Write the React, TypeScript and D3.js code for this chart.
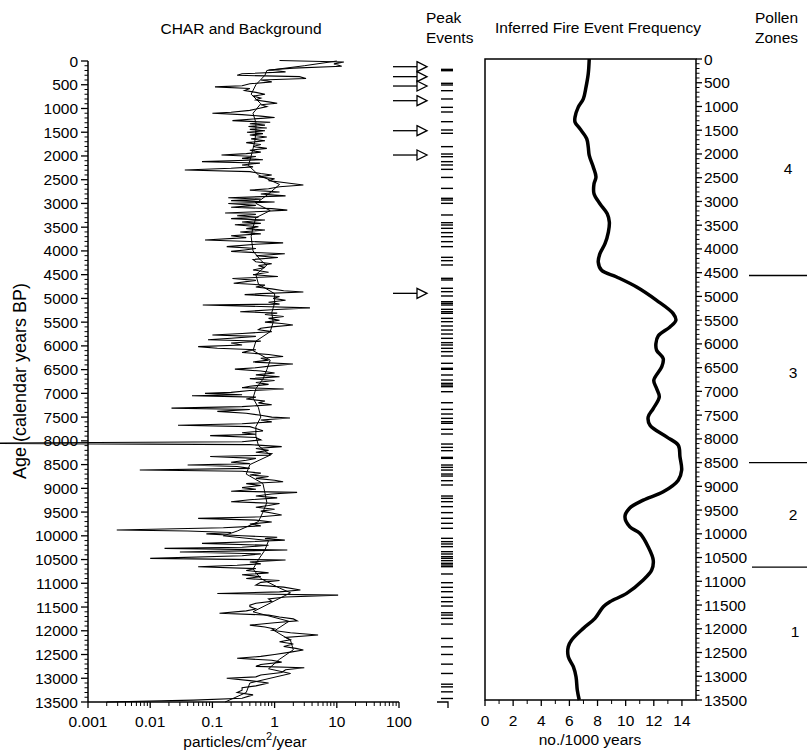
import React from "react";
import * as d3 from "d3";

// ---------------- DATA ----------------
// CHAR raw series: [age (cal yr BP), particles/cm2/yr]
const charRaw: [number, number][] = [
  [-10, 1.2], [20, 13], [60, 9], [110, 12], [150, 2], [190, 0.8], [230, 1.5], [270, 0.3], [300, 0.25], [330, 2.5],
  [370, 3.2], [400, 0.6], [440, 0.9], [480, 0.4], [520, 0.3], [545, 0.11], [580, 0.4], [620, 0.33], [660, 0.5], [700, 0.7],
  [740, 0.45], [780, 0.6], [820, 0.5], [860, 0.8], [890, 1.1], [920, 0.6], [960, 0.75], [1000, 0.55], [1040, 0.4], [1080, 0.2],
  [1100, 0.1], [1130, 0.3], [1160, 0.6], [1190, 1.0], [1220, 0.45], [1255, 0.21], [1290, 0.85], [1320, 0.4], [1350, 0.7], [1380, 0.38],
  [1410, 0.75], [1440, 0.4], [1470, 0.7], [1500, 0.36], [1530, 0.65], [1560, 0.4], [1600, 0.75], [1640, 0.42], [1680, 0.7], [1720, 0.35],
  [1760, 0.6], [1800, 0.45], [1840, 0.75], [1880, 0.4], [1920, 0.6], [1950, 0.35], [1980, 0.14], [2010, 0.5], [2050, 0.3], [2080, 0.65],
  [2120, 0.068], [2150, 0.58], [2190, 0.3], [2230, 0.45], [2260, 0.2], [2295, 0.036], [2330, 0.4], [2370, 0.6], [2400, 0.9], [2440, 0.55],
  [2480, 1.0], [2520, 0.8], [2560, 1.4], [2610, 2.9], [2650, 1.2], [2690, 0.8], [2720, 0.4], [2760, 1.2], [2800, 0.6], [2840, 1.5],
  [2880, 0.18], [2910, 0.6], [2940, 0.2], [2970, 1.0], [3000, 0.18], [3040, 0.5], [3080, 0.2], [3110, 0.9], [3140, 1.6], [3170, 0.6],
  [3200, 0.16], [3230, 0.5], [3260, 0.25], [3290, 0.55], [3320, 0.2], [3350, 0.7], [3390, 0.3], [3420, 0.6], [3450, 0.23], [3490, 0.55],
  [3530, 0.35], [3560, 0.7], [3600, 0.28], [3640, 0.6], [3680, 0.2], [3720, 0.35], [3770, 0.076], [3800, 0.4], [3830, 1.37], [3860, 0.5],
  [3910, 0.17], [3950, 0.5], [3980, 0.33], [4010, 0.2], [4040, 0.6], [4060, 1.46], [4100, 0.5], [4140, 1.13], [4180, 0.45], [4230, 0.5],
  [4270, 0.9], [4310, 0.55], [4350, 0.7], [4400, 0.45], [4450, 0.8], [4500, 0.45], [4540, 1.13], [4580, 0.21], [4620, 0.5], [4680, 0.22],
  [4720, 0.7], [4760, 0.5], [4800, 0.9], [4840, 1.4], [4865, 2.9], [4900, 0.6], [4920, 0.33], [4960, 1.2], [5000, 0.95], [5040, 1.5],
  [5080, 0.8], [5120, 1.2], [5140, 0.07], [5170, 0.6], [5200, 3.7], [5240, 0.9], [5280, 0.28], [5310, 1.1], [5340, 0.7], [5380, 1.4],
  [5420, 0.8], [5460, 1.2], [5500, 0.7], [5530, 1.3], [5560, 1.97], [5600, 0.9], [5630, 0.6], [5660, 0.55], [5700, 0.9], [5740, 0.3],
  [5770, 0.1], [5800, 0.5], [5840, 0.2], [5870, 0.085], [5900, 0.6], [5940, 0.2], [5980, 0.3], [6015, 0.059], [6050, 0.12], [6080, 0.5],
  [6100, 0.4], [6140, 0.3], [6180, 0.8], [6225, 1.37], [6260, 0.6], [6300, 0.8], [6340, 0.45], [6380, 1.97], [6420, 0.9], [6460, 0.5],
  [6490, 0.23], [6530, 0.6], [6570, 1.0], [6610, 0.5], [6650, 1.2], [6690, 0.4], [6730, 1.0], [6770, 0.5], [6810, 0.8], [6850, 0.4],
  [6880, 0.3], [6908, 1.4], [6940, 0.4], [6980, 0.2], [7000, 0.076], [7030, 0.3], [7050, 0.047], [7080, 0.5], [7120, 0.35], [7160, 0.7],
  [7200, 0.55], [7240, 0.9], [7280, 0.3], [7310, 0.022], [7340, 0.4], [7380, 0.12], [7420, 0.35], [7460, 0.6], [7500, 0.9], [7520, 1.77],
  [7560, 0.6], [7600, 0.9], [7640, 0.3], [7670, 0.028], [7700, 0.4], [7740, 0.5], [7790, 0.65], [7830, 0.3], [7860, 0.5], [7890, 0.092],
  [7930, 0.5], [7980, 0.6], [8020, 0.3], [8050, 0.00001], [8080, 0.4], [8122, 1.3], [8160, 0.5], [8200, 0.8], [8240, 0.5], [8270, 0.9],
  [8300, 0.84], [8330, 0.092], [8370, 0.5], [8410, 0.35], [8450, 0.2], [8480, 0.4], [8510, 0.04], [8540, 0.25], [8580, 0.4], [8615, 0.0068],
  [8640, 0.3], [8680, 0.6], [8720, 0.4], [8750, 0.8], [8790, 0.5], [8830, 1.0], [8860, 1.37], [8900, 0.35], [8940, 0.6], [8985, 0.3],
  [9020, 0.5], [9060, 0.2], [9086, 2.3], [9120, 0.9], [9160, 0.5], [9200, 1.1], [9240, 0.4], [9282, 0.2], [9320, 1.2], [9360, 0.8],
  [9400, 0.5], [9440, 1.0], [9480, 0.6], [9520, 0.9], [9562, 1.3], [9600, 0.6], [9632, 0.059], [9670, 0.5], [9710, 0.9], [9750, 0.4],
  [9790, 0.6], [9830, 0.15], [9878, 0.0029], [9900, 0.04], [9930, 0.2], [9960, 0.08], [10000, 0.3], [10030, 1.1], [10060, 0.7], [10090, 1.46],
  [10125, 0.4], [10160, 0.068], [10200, 0.8], [10240, 0.3], [10265, 0.017], [10300, 1.6], [10340, 0.03], [10380, 0.6], [10420, 0.3], [10475, 0.01],
  [10510, 1.5], [10550, 0.4], [10590, 0.6], [10620, 0.25], [10650, 0.059], [10690, 0.5], [10730, 0.35], [10780, 0.8], [10820, 0.3], [10860, 0.6],
  [10900, 0.35], [10940, 1.2], [10980, 0.6], [11036, 0.5], [11080, 1.4], [11140, 2.6], [11180, 1.2], [11215, 0.12], [11250, 10.5], [11290, 1.5],
  [11330, 0.8], [11380, 0.9], [11420, 0.5], [11460, 0.4], [11490, 0.4], [11540, 0.5], [11580, 0.35], [11630, 0.13], [11670, 0.8], [11710, 1.2],
  [11750, 2.0], [11790, 2.3], [11830, 1.0], [11880, 0.4], [11920, 0.7], [11960, 1.0], [11990, 0.9], [12040, 1.8], [12090, 5.0], [12140, 1.5],
  [12190, 1.8], [12230, 1.2], [12280, 2.0], [12330, 1.4], [12370, 2.2], [12405, 2.9], [12450, 1.8], [12500, 1.0], [12540, 0.6], [12580, 0.25],
  [12620, 0.9], [12660, 1.3], [12710, 0.6], [12750, 0.5], [12780, 3.0], [12820, 1.5], [12880, 1.3], [12930, 0.6], [12970, 0.5], [13000, 0.17],
  [13050, 0.4], [13100, 0.8], [13160, 0.5], [13200, 0.3], [13250, 0.3], [13300, 0.25], [13350, 0.45], [13420, 0.3], [13460, 0.05], [13500, 0.002],
];

// CHAR background (smoothed)
const charBackground: [number, number][] = [
  [0, 10], [100, 3], [200, 0.75], [300, 0.7], [500, 0.5], [700, 0.42], [900, 0.6], [1100, 0.45], [1300, 0.5], [1500, 0.5],
  [1700, 0.48], [2000, 0.42], [2200, 0.38], [2400, 0.55], [2600, 1.2], [2800, 0.8], [3000, 0.5], [3150, 0.85], [3300, 0.5], [3500, 0.45],
  [3700, 0.42], [4000, 0.45], [4200, 0.6], [4300, 0.75], [4500, 0.5], [4700, 0.55], [4900, 1.0], [5100, 1.0], [5300, 0.9], [5500, 0.95],
  [5700, 0.85], [5900, 0.5], [6100, 0.45], [6300, 0.85], [6500, 0.75], [6700, 0.65], [6900, 0.5], [7100, 0.45], [7300, 0.55], [7500, 0.6],
  [7700, 0.5], [7900, 0.5], [8100, 0.55], [8300, 0.85], [8500, 0.4], [8700, 0.35], [8900, 0.65], [9100, 0.7], [9300, 0.75], [9500, 0.65],
  [9700, 0.55], [9900, 0.25], [10000, 0.15], [10100, 0.8], [10300, 0.7], [10500, 0.55], [10700, 0.45], [10900, 0.6], [11100, 1.2], [11200, 1.8],
  [11400, 0.9], [11600, 0.45], [11800, 1.7], [12000, 1.0], [12200, 1.8], [12400, 2.0], [12600, 1.2], [12800, 0.8], [12900, 1.8], [13100, 0.4],
  [13300, 0.35], [13500, 0.16],
];

// Peak events (ages, cal yr BP)
const peakEvents: number[] = [
  176, 204, 470, 505, 625, 800, 976, 1074, 1278, 1453, 1523, 1804, 1959, 2015, 2120, 2190, 2282, 2452, 2683, 2892,
  2928, 2998, 3243, 3405, 3454, 3524, 3615, 3700, 3805, 3910, 4135, 4205, 4296, 4577, 4612, 4787, 4858, 4949, 5069, 5103,
  5139, 5230, 5280, 5314, 5420, 5490, 5581, 5666, 5750, 5841, 5932, 5981, 6051, 6121, 6213, 6367, 6472, 6493, 6613, 6719,
  6789, 6824, 6859, 6965, 7197, 7337, 7435, 7526, 7596, 7631, 7757, 7856, 8067, 8137, 8207, 8348, 8369, 8509, 8558, 8615,
  8699, 8741, 8839, 8930, 9162, 9211, 9281, 9386, 9512, 9631, 9737, 9842, 10053, 10123, 10172, 10228, 10334, 10383, 10439, 10474,
  10523, 10579, 10614, 10650, 10804, 10987, 11085, 11177, 11296, 11388, 11479, 11620, 11669, 11739, 11859, 12161, 12338, 12499, 12703, 12899,
  13125, 13181, 13286, 13426,
];

// Highlighted peaks (arrows)
const arrowEvents: number[] = [120, 330, 527, 836, 1468, 1980, 4893];

// Inferred fire event frequency: [age, events per 1000 years]
const fireFreq: [number, number][] = [
  [0, 7.41], [311, 7.34], [593, 7.18], [838, 6.99], [1014, 6.63], [1224, 6.4], [1329, 6.4], [1470, 6.75], [1680, 7.23], [1855, 7.34],
  [2031, 7.41], [2277, 7.7], [2487, 7.89], [2627, 7.75], [2837, 7.75], [3048, 8.17], [3258, 8.69], [3434, 8.84], [3645, 8.77], [3890, 8.53],
  [4100, 8.17], [4276, 8.05], [4451, 8.29], [4591, 9.36], [4802, 10.78], [5082, 12.2], [5362, 13.38], [5503, 13.57], [5644, 13.15], [5830, 12.32],
  [5994, 12.15], [6134, 12.2], [6309, 12.67], [6485, 12.56], [6766, 12.0], [6941, 12.2], [7117, 12.39], [7362, 11.96], [7538, 11.6], [7713, 11.73],
  [7959, 12.91], [8134, 13.74], [8379, 13.86], [8659, 13.98], [8870, 13.74], [9116, 12.67], [9291, 11.25], [9466, 10.26], [9641, 9.95], [9853, 10.3],
  [9993, 11.02], [10273, 11.6], [10553, 11.96], [10764, 11.85], [10974, 11.25], [11254, 10.07], [11431, 8.88], [11536, 8.41], [11780, 7.82], [11991, 6.99],
  [12237, 6.16], [12378, 5.92], [12588, 5.92], [12799, 6.28], [13009, 6.47], [13289, 6.56], [13500, 6.7],
];

// Pollen zones
const zoneBoundaries: number[] = [4560, 8500, 10700];
const zoneLabels: { label: string; age: number }[] = [
  { label: "4", age: 2300 },
  { label: "3", age: 6600 },
  { label: "2", age: 9600 },
  { label: "1", age: 12050 },
];

// Tick labels
const ageTicks: number[] = [0, 500, 1000, 1500, 2000, 2500, 3000, 3500, 4000, 4500, 5000, 5500, 6000, 6500, 7000,
  7500, 8000, 8500, 9000, 9500, 10000, 10500, 11000, 11500, 12000, 12500, 13000, 13500];
const charTicks: number[] = [0.001, 0.01, 0.1, 1, 10, 100];
const charTickLabels: string[] = ["0.001", "0.01", "0.1", "1", "10", "100"];
const freqTicks: number[] = [0, 2, 4, 6, 8, 10, 12, 14];
const freqMinorTicks: number[] = [1, 3, 5, 7, 9, 11, 13];

// ---------------- LAYOUT ----------------
const W = 807;
const H = 751;
const FONT = "'Liberation Sans', Arial, Helvetica, sans-serif";

const xChar = d3.scaleLog().domain([0.001, 100]).range([88, 399]);
const yLeft = d3.scaleLinear().domain([0, 13500]).range([61, 702]);
const xFreq = d3.scaleLinear().domain([0, 15]).range([485, 696]);
const yRight = d3.scaleLinear().domain([0, 13500]).range([59, 700]);

const minorAges: number[] = d3.range(0, 13501, 100).filter((a) => a % 500 !== 0);
const logMinor: number[] = [];
[0.001, 0.01, 0.1, 1, 10].forEach((dec) => {
  for (let k = 2; k <= 9; k++) logMinor.push(dec * k);
});

export default function App() {
  const rawLine = d3
    .line<[number, number]>()
    .x((d) => xChar(d[1]))
    .y((d) => yLeft(d[0]));
  const freqLine = d3
    .line<[number, number]>()
    .x((d) => xFreq(d[1]))
    .y((d) => yRight(d[0]))
    .curve(d3.curveCatmullRom.alpha(0.5));

  const peakX0 = 441;
  const peakX1 = 453;

  return (
    <svg
      width={W}
      height={H}
      style={{ position: "absolute", left: 0, top: 0, background: "#fff" }}
      fontFamily={FONT}
    >
      <rect x={0} y={0} width={W} height={H} fill="#fff" />

      {/* Titles */}
      <text x={241} y={34} fontSize={15.5} textAnchor="middle">CHAR and Background</text>
      <text x={426} y={23} fontSize={15.5}>Peak</text>
      <text x={426} y={43} fontSize={15.5}>Events</text>
      <text x={598} y={33} fontSize={15.5} textAnchor="middle">Inferred Fire Event Frequency</text>
      <text x={755} y={23} fontSize={15.5}>Pollen</text>
      <text x={755} y={43} fontSize={15.5}>Zones</text>

      {/* ---------- CHAR panel ---------- */}
      <path d={rawLine(charRaw) || ""} fill="none" stroke="#000" strokeWidth={1.1} strokeLinejoin="miter" />
      <path d={rawLine(charBackground) || ""} fill="none" stroke="#000" strokeWidth={1} />

      {/* Left axis */}
      <line x1={88} x2={88} y1={yLeft(0)} y2={yLeft(13500)} stroke="#000" strokeWidth={1.5} />
      {ageTicks.map((a) => (
        <g key={"la" + a}>
          <line x1={81} x2={88} y1={yLeft(a)} y2={yLeft(a)} stroke="#000" strokeWidth={1.3} />
          <text x={78} y={yLeft(a) + 5.5} fontSize={15.5} textAnchor="end">{a}</text>
        </g>
      ))}
      {minorAges.map((a) => (
        <line key={"lm" + a} x1={84.5} x2={88} y1={yLeft(a)} y2={yLeft(a)} stroke="#000" strokeWidth={1} />
      ))}
      <text
        transform={`translate(26, 381) rotate(-90)`}
        fontSize={18}
        textAnchor="middle"
      >
        Age (calendar years BP)
      </text>

      {/* Bottom log axis */}
      <line x1={xChar(0.001)} x2={xChar(100)} y1={702} y2={702} stroke="#000" strokeWidth={1.5} />
      {charTicks.map((t, i) => (
        <g key={"bt" + t}>
          <line x1={xChar(t)} x2={xChar(t)} y1={702} y2={708} stroke="#000" strokeWidth={1.3} />
          <text x={xChar(t)} y={727} fontSize={15.5} textAnchor="middle">{charTickLabels[i]}</text>
        </g>
      ))}
      {logMinor.map((t) => (
        <line key={"bm" + t} x1={xChar(t)} x2={xChar(t)} y1={702} y2={706} stroke="#000" strokeWidth={1} />
      ))}
      <text x={245} y={747} fontSize={15.5} textAnchor="middle">
        particles/cm<tspan dy={-7} fontSize={11}>2</tspan><tspan dy={7}>/year</tspan>
      </text>

      {/* ---------- Peak events ---------- */}
      {peakEvents.map((a) => (
        <line key={"pe" + a} x1={peakX0} x2={peakX1} y1={yLeft(a)} y2={yLeft(a)} stroke="#000" strokeWidth={1.4} />
      ))}
      {arrowEvents.map((a) => {
        const y = yLeft(a);
        return (
          <g key={"ar" + a}>
            <line x1={393} x2={417} y1={y} y2={y} stroke="#000" strokeWidth={1.3} />
            <path d={`M${417},${y - 5} L${427},${y} L${417},${y + 5} Z`} fill="#fff" stroke="#000" strokeWidth={1.3} />
          </g>
        );
      })}
      <path d={`M437,702 L448,702 L448,708`} fill="none" stroke="#000" strokeWidth={1.3} />

      {/* ---------- Fire frequency panel ---------- */}
      <rect
        x={xFreq(0)}
        y={yRight(0)}
        width={xFreq(15) - xFreq(0)}
        height={yRight(13500) - yRight(0)}
        fill="none"
        stroke="#000"
        strokeWidth={1.5}
      />
      <path d={freqLine(fireFreq) || ""} fill="none" stroke="#000" strokeWidth={3.5} strokeLinejoin="round" />

      {freqTicks.map((t) => (
        <g key={"ft" + t}>
          <line x1={xFreq(t)} x2={xFreq(t)} y1={700} y2={706} stroke="#000" strokeWidth={1.3} />
          <text x={xFreq(t)} y={726} fontSize={15.5} textAnchor="middle">{t}</text>
        </g>
      ))}
      {freqMinorTicks.map((t) => (
        <line key={"fm" + t} x1={xFreq(t)} x2={xFreq(t)} y1={700} y2={704} stroke="#000" strokeWidth={1} />
      ))}
      <text x={590} y={745} fontSize={15.5} textAnchor="middle">no./1000 years</text>

      {/* Right axis */}
      {ageTicks.map((a) => (
        <g key={"ra" + a}>
          <line x1={696} x2={702} y1={yRight(a)} y2={yRight(a)} stroke="#000" strokeWidth={1.3} />
          <text x={704} y={yRight(a) + 5.5} fontSize={15.5}>{a}</text>
        </g>
      ))}
      {minorAges.map((a) => (
        <line key={"rm" + a} x1={696} x2={699.5} y1={yRight(a)} y2={yRight(a)} stroke="#000" strokeWidth={1} />
      ))}

      {/* Pollen zones */}
      {zoneBoundaries.map((a, i) => (
        <line key={"zb" + a} x1={i === 2 ? 752 : 749} x2={807} y1={yRight(a)} y2={yRight(a)} stroke="#000" strokeWidth={1.3} />
      ))}
      {zoneLabels.map((z, i) => (
        <text key={"zl" + z.label} x={[788, 793, 793, 795][i]} y={yRight(z.age) + 5.5} fontSize={15.5} textAnchor="middle">
          {z.label}
        </text>
      ))}
    </svg>
  );
}
